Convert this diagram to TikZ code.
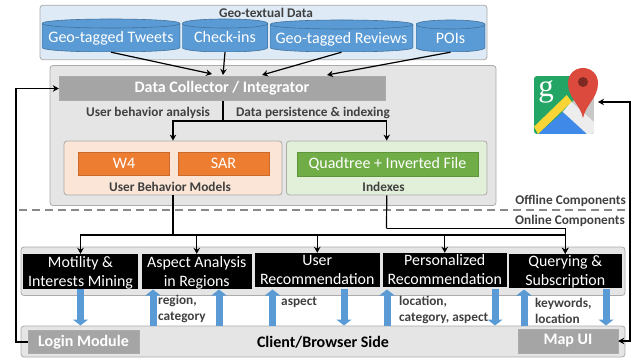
\documentclass[tikz,border=0pt]{standalone}
\usepackage{fontspec}
\setmainfont{Carlito}
\newfontfamily\iconfont{Liberation Serif}
\usetikzlibrary{arrows.meta}

\definecolor{panelblue}{HTML}{DEEAF6}
\definecolor{cylblue}{HTML}{5B9BD5}
\definecolor{cyledge}{HTML}{41719C}
\definecolor{panelgray}{HTML}{E5E5E5}
\definecolor{edgegray}{HTML}{ABABAB}
\definecolor{boxgray}{HTML}{A5A5A5}
\definecolor{panelorange}{HTML}{FBE5D6}
\definecolor{boxorange}{HTML}{ED7D31}
\definecolor{panelgreen}{HTML}{E2F0D9}
\definecolor{boxgreen}{HTML}{70AD47}
\definecolor{labelgray}{HTML}{404040}
\definecolor{mapgreen}{HTML}{22A565}
\definecolor{mapyellow}{HTML}{FBD535}
\definecolor{mapblue}{HTML}{3F8AE8}
\definecolor{mapgrey}{HTML}{C8C8C8}
\definecolor{mapwhite}{HTML}{EDEDED}
\definecolor{mapred}{HTML}{DB4A3C}
\definecolor{mapdark}{HTML}{7E2A22}

\tikzset{
  panel/.style={shape=rectangle,draw=edgegray,line width=0.8pt,rounded corners=3pt,inner sep=0pt},
  algobox/.style={shape=rectangle,inner sep=0pt,text=white,font=\fontsize{16}{16}\selectfont},
  graybox/.style={shape=rectangle,inner sep=0pt,fill=boxgray,draw=edgegray,text=white,font=\fontsize{16}{16}\selectfont\bfseries},
  taskbox/.style={shape=rectangle,inner sep=0pt,fill=black,text=white,align=center,font=\fontsize{15.9}{19}\selectfont,
    text height=29.5pt,text depth=0pt},
  source/.style={shape=rectangle,inner sep=0pt,text=white,text height=15pt,text depth=0pt,font=\fontsize{16}{16}\selectfont,
    path picture={
      \coordinate (nw) at ([yshift=-4.5pt]path picture bounding box.north west);
      \coordinate (ne) at ([yshift=-4.5pt]path picture bounding box.north east);
      \coordinate (sw) at ([yshift=4.5pt]path picture bounding box.south west);
      \coordinate (se) at ([yshift=4.5pt]path picture bounding box.south east);
      \draw[fill=cylblue,draw=cyledge,line width=0.6pt]
        (nw) .. controls ([yshift=6pt]nw) and ([yshift=6pt]ne) .. (ne)
        -- (se) .. controls ([yshift=-6pt]se) and ([yshift=-6pt]sw) .. (sw) -- cycle;
      \draw[draw=cyledge,line width=0.6pt]
        (nw) .. controls ([yshift=-6pt]nw) and ([yshift=-6pt]ne) .. (ne);
    }},
  tag/.style={inner sep=0pt,text=labelgray,font=\fontsize{13.3}{13.3}\selectfont\bfseries},
  note/.style={inner sep=0pt,text=labelgray,align=left,font=\fontsize{13.3}{16}\selectfont\bfseries},
  link/.style={-{Stealth[length=6pt,width=6.5pt]},line width=1.2pt},
  flow/.style={-{Triangle[length=6pt,width=15pt]},line width=7pt,cylblue}
}

\begin{document}
\begin{tikzpicture}[x=1pt,y=-1pt]
\useasboundingbox (0,0) rectangle (634,358);
% data sources
\node[panel,fill=panelblue,minimum width=447,minimum height=54.5] (geopanel) at (263.5,32.5) {};
\node[tag] (geotitle) at (266,13) {Geo-textual Data};
\node[source,minimum width=138,minimum height=33] (tweets) at (111,35.5) {Geo-tagged Tweets};
\node[source,minimum width=85.5,minimum height=33] (checkins) at (225,35.5) {Check-ins};
\node[source,minimum width=143,minimum height=32] (reviews) at (341.5,36) {Geo-tagged Reviews};
\node[source,minimum width=69,minimum height=32] (pois) at (450.5,36) {POIs};
% offline part
\node[panel,fill=panelgray,minimum width=446,minimum height=140] (offline) at (273,135.5) {};
\node[graybox,minimum width=326,minimum height=24] (collector) at (222,88.5) {Data Collector / Integrator};
\node[tag] (analysis) at (148,113) {User behavior analysis};
\node[tag] (persist) at (313,113) {Data persistence \& indexing};
\node[panel,fill=panelorange,minimum width=218,minimum height=54] (models) at (173,168) {};
\node[panel,fill=panelgreen,minimum width=200.5,minimum height=54] (indexes) at (386.75,168) {};
\node[algobox,fill=boxorange,draw=boxorange!85!black,minimum width=91,minimum height=23.5] (wfour) at (124,163.5) {W4};
\node[algobox,fill=boxorange,draw=boxorange!85!black,minimum width=91,minimum height=23.5] (sar) at (223.5,163.5) {SAR};
\node[algobox,fill=boxgreen,draw=boxgreen!85!black,minimum width=181,minimum height=23.5] (quadtree) at (387.5,164) {Quadtree + Inverted File};
\node[tag] (modelstag) at (170,187) {User Behavior Models};
\node[tag] (indexestag) at (383.5,187) {Indexes};
% offline / online split
\coordinate (splitl) at (19,210);
\coordinate (splitr) at (625,210);
\draw[edgegray!80!black,line width=1.2pt,dash pattern=on 8pt off 5pt] (splitl) -- (splitr);
\node[tag,anchor=east] (offtag) at (626,201) {Offline Components};
\node[tag,anchor=east] (ontag) at (625,221) {Online Components};
% online part
\node[panel,fill=panelgray,minimum width=604,minimum height=48.5] (online) at (323,271.25) {};
\node[taskbox,minimum width=115,minimum height=34.5] (mining) at (80.5,271.25) {Motility \&\\Interests Mining};
\node[taskbox,minimum width=110.5,minimum height=34.5] (aspects) at (196.75,271.25) {Aspect Analysis\\in Regions};
\node[taskbox,minimum width=124.5,minimum height=34] (userrec) at (317.25,270) {User\\Recommendation};
\node[taskbox,minimum width=124.5,minimum height=34] (persrec) at (444.75,270) {Personalized\\Recommendation};
\node[taskbox,minimum width=112.5,minimum height=34] (query) at (565.25,271) {Querying \&\\Subscription};
% client side
\node[panel,fill=panelgray,minimum width=604,minimum height=31] (client) at (323,341.5) {};
\node[graybox,minimum width=111,minimum height=23] (login) at (83.5,342) {Login Module};
\node[graybox,minimum width=100,minimum height=24] (mapui) at (568,341) {Map UI};
\node[inner sep=0pt,font=\fontsize{16}{16}\selectfont\bfseries] (browser) at (323,342) {Client/Browser Side};
% map icon
\coordinate (maptarget) at (598,102);
\begin{scope}
\clip[rounded corners=3pt] (534,76) -- (575,76) -- (594,92) -- (594,134) -- (534,134) -- cycle;
\fill[mapgreen] (534,76) rectangle (594,134);
\fill[mapgrey] (562,112) -- (584,90) -- (594,90) -- (594,134) -- cycle;
\fill[mapblue] (538,134) -- (563,112) -- (589,134) -- cycle;
\fill[mapwhite] (563,112) -- (571,101.7) -- (594,122) -- (594,134) -- (587,134) -- cycle;
\fill[mapyellow] (534,126.7) -- (538,134) -- (571.7,101.7) -- (566.7,95) -- cycle;
\end{scope}
\fill[mapred] (583,118) .. controls (580,104) and (568,98) .. (568,83) .. controls (568,74) and (575,68) .. (583,68) .. controls (591,68) and (598,74) .. (598,83) .. controls (598,98) and (586,104) .. (583,118) -- cycle;
\fill[mapdark] (583,82) circle (5);
\node[inner sep=0pt,text=white,font=\fontsize{31}{31}\selectfont\iconfont] (mapg) at (546,92) {g};
% arrows to collector
\coordinate (ctweets) at (212,74);
\coordinate (ccheckins) at (223,75);
\coordinate (creviews) at (262,75);
\coordinate (cpois) at (327,75);
\draw[link] (tweets.south) -- (ctweets);
\draw[link] (checkins.south) -- (ccheckins);
\draw[link] (reviews.south) -- (creviews);
\draw[link] (pois.south) -- (cpois);
\coordinate (split) at (223,121);
\draw[line width=1.2pt] (collector.south -| split) -- (split);
\draw[link] (split) -| (models.north);
\draw[link] (split) -| (indexes.north);
% arrows to the online tasks
\coordinate (bus) at (173,235);
\draw[line width=1.5pt] (models.south) -- (bus);
\foreach \target in {mining,aspects,userrec,persrec}
  \draw[link] (bus) -| (\target.north);
\draw[link] (bus) -| (query.north);
\coordinate (indexbus) at (386.5,228.5);
\draw[line width=1.2pt] (indexes.south) -- (indexbus);
\draw[link] (indexbus) -| (query.north);
% loops to login and map
\coordinate (leftturn) at (16,342);
\coordinate (rightturn) at (630,341);
\draw[link] (login.west) -- (leftturn) |- (collector.west);
\draw[{Stealth[length=6pt,width=6.5pt]}-{Stealth[length=6pt,width=6.5pt]},line width=1.2pt] (maptarget) -| (rightturn) -- (mapui.east);
% client requests and results
\foreach \name/\xpos in {uone/153,utwo/219,uthree/272.5,ufour/387,ufive/524}{
  \coordinate (\name a) at (\xpos,326);
  \coordinate (\name b) at (\xpos,289.5);
  \draw[flow] (\name a) -- (\name b);
}
\foreach \name/\xpos in {done/80.5,dtwo/344,dthree/495,dfour/606}{
  \coordinate (\name a) at (\xpos,289);
  \coordinate (\name b) at (\xpos,325.5);
  \draw[flow] (\name a) -- (\name b);
}
\node[note,anchor=west] (regionnote) at (158,309) {region,\\category};
\node[note,anchor=west] (aspectnote) at (281,302) {aspect};
\node[note,anchor=west] (locationnote) at (399,310) {location,\\category, aspect};
\node[note,anchor=west] (keywordnote) at (535,311) {keywords,\\location};
\end{tikzpicture}
\end{document}
